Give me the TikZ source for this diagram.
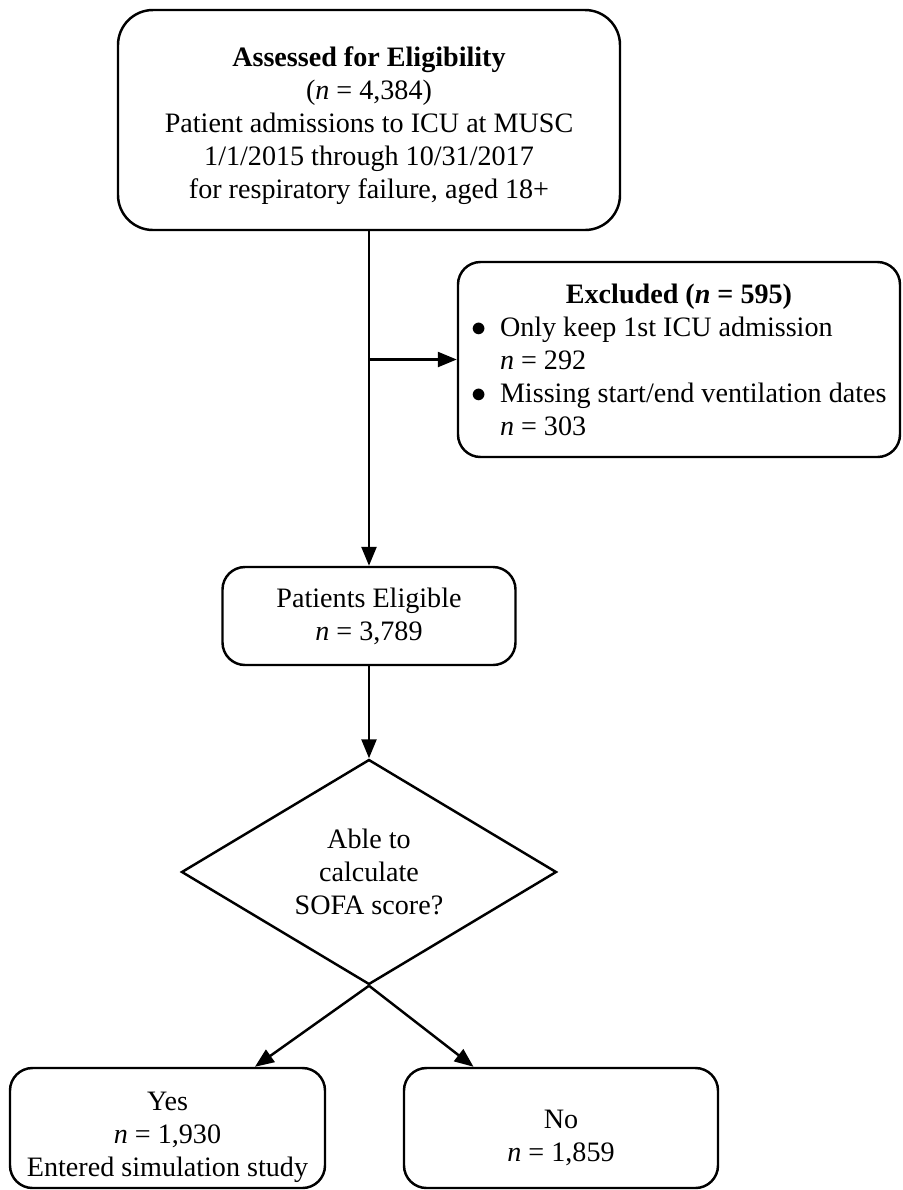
\documentclass[tikz,border=0pt]{standalone}
\usepackage{fontspec}
\setmainfont{Liberation Serif}
\usetikzlibrary{shapes.geometric,arrows.meta}

\def\lw{1.4pt}
\tikzstyle{roundbox}=[draw,rectangle,rounded corners=0.45cm,line width=\lw,
                      align=center,inner sep=0pt]
\tikzstyle{decision}=[draw,diamond,aspect=1.667,line width=\lw,align=center,
                      inner sep=0pt,minimum width=7.5cm,minimum height=4.5cm]
\tikzstyle{flow}=[line width=\lw,-{Triangle[length=0.38cm,width=0.3cm]}]

\begin{document}
\begin{tikzpicture}[font=\fontsize{16}{18.8}\selectfont]
  \useasboundingbox (0,0) rectangle (18.06,-23.8);

  % Main column
  \node[roundbox,rounded corners=0.7cm,minimum width=10.04cm,minimum height=4.4cm]
    (assess) at (7.38,-2.4) {\rule{0pt}{0.62cm}\textbf{Assessed for Eligibility}\\(\textit{n} = 4,384)\\
    Patient admissions to ICU at MUSC\\1/1/2015 through 10/31/2017\\
    for respiratory failure, aged 18+};
  \node[roundbox,minimum width=5.86cm,minimum height=1.96cm]
    (elig) at (7.38,-12.32) {Patients Eligible\\\textit{n} = 3,789};
  \node[decision] (sofa) at (7.38,-17.44) {Able to\\calculate\\SOFA score?};

  % Exclusions
  \node[roundbox,align=left,minimum width=8.84cm,minimum height=3.9cm]
    (excl) at (13.58,-7.19) {\makebox[8.32cm]{\textbf{Excluded (\textit{n} = 595)}}\\
    \makebox[0.58cm][l]{$\bullet$}Only keep 1st ICU admission\\
    \hspace*{0.58cm}\textit{n} = 292\\
    \makebox[0.58cm][l]{$\bullet$}Missing start/end ventilation dates\\
    \hspace*{0.58cm}\textit{n} = 303};

  % Outcomes
  \node[roundbox,minimum width=6.3cm,minimum height=2.4cm]
    (yes) at (3.35,-22.56) {\rule{0pt}{0.75cm}Yes\\\textit{n} = 1,930\\Entered simulation study};
  \node[roundbox,minimum width=6.28cm,minimum height=2.4cm]
    (no) at (11.22,-22.56) {\rule{0pt}{0.75cm}No\\\textit{n} = 1,859};

  \path[flow] (assess) edge (elig);
  \path[flow] (assess.south |- excl.west) edge (excl.west);
  \path[flow] (elig) edge (sofa);
  \path[flow] (sofa.south) edge (yes.35);
  \path[flow] (sofa.south) edge (no.145);

\end{tikzpicture}
\end{document}
